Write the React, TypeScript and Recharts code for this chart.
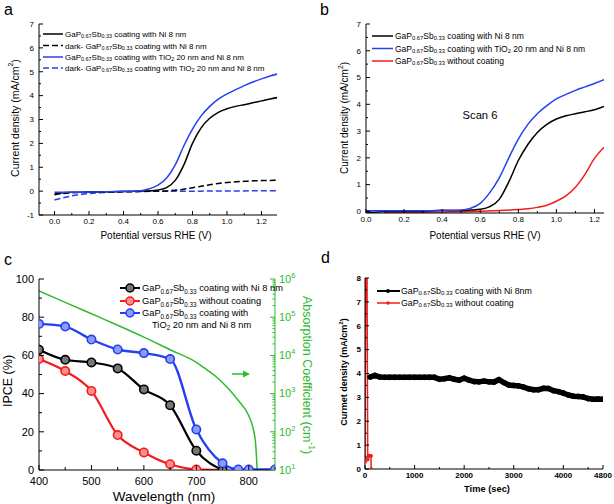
import React from 'react';
import { LineChart, Line, XAxis, YAxis } from 'recharts';

const FONT = '"Liberation Sans", Arial, Helvetica, sans-serif';
const BLUE = '#2440f0';
const RED = '#f41c1c';
const GREEN = '#2fba2f';

// ---- panel a: J-V curves, light and dark ----
const potA = [0, 0.05, 0.1, 0.2, 0.3, 0.4, 0.5, 0.55, 0.6, 0.65, 0.7, 0.75, 0.8, 0.85, 0.9, 0.95, 1.0, 1.05, 1.1, 1.15, 1.2, 1.25, 1.3];
const niA = [-0.12, -0.07, -0.05, -0.04, -0.03, -0.02, 0, 0.01, 0.05, 0.15, 0.45, 1.1, 2.0, 2.65, 3.05, 3.3, 3.45, 3.55, 3.62, 3.7, 3.78, 3.86, 3.93];
const darkNiA = [-0.15, -0.1, -0.07, -0.05, -0.04, -0.03, -0.02, -0.01, 0, 0.01, 0.04, 0.08, 0.14, 0.2, 0.27, 0.32, 0.36, 0.39, 0.41, 0.43, 0.44, 0.45, 0.46];
const tiA = [-0.05, -0.05, -0.05, -0.04, -0.03, -0.01, 0.02, 0.1, 0.25, 0.55, 1.1, 1.9, 2.6, 3.15, 3.55, 3.85, 4.07, 4.25, 4.42, 4.57, 4.7, 4.82, 4.92];
const darkTiA = [-0.37, -0.28, -0.2, -0.1, -0.05, -0.02, -0.01, 0, 0, 0, 0, 0, 0, 0, 0.01, 0.01, 0.01, 0.01, 0.01, 0.02, 0.02, 0.02, 0.02];

// ---- panel b: scan 6 ----
const potB = [0, 0.05, 0.1, 0.2, 0.3, 0.4, 0.5, 0.55, 0.6, 0.65, 0.7, 0.75, 0.8, 0.85, 0.9, 0.95, 1.0, 1.05, 1.1, 1.15, 1.2, 1.25];
const niB = [-0.02, -0.03, 0, 0.01, 0.01, 0.04, 0.03, 0.05, 0.08, 0.18, 0.45, 1.1, 1.9, 2.5, 2.95, 3.25, 3.45, 3.57, 3.65, 3.72, 3.8, 3.92];
const tiB = [0.02, 0.02, 0.02, 0.02, 0.02, 0.03, 0.05, 0.12, 0.3, 0.7, 1.25, 2.0, 2.7, 3.25, 3.65, 3.95, 4.2, 4.37, 4.52, 4.65, 4.78, 4.92];
const potBare = [0.1, 0.2, 0.3, 0.4, 0.5, 0.6, 0.7, 0.8, 0.85, 0.9, 0.95, 1.0, 1.05, 1.1, 1.15, 1.2, 1.25];
const bareB = [-0.05, -0.04, -0.03, -0.02, -0.01, 0.01, 0.03, 0.07, 0.1, 0.15, 0.23, 0.38, 0.58, 0.9, 1.38, 1.98, 2.4];

// ---- panel c: IPCE + absorption ----
const wlNi = [400, 450, 500, 550, 600, 650, 700, 750];
const ipceNi = [63, 57.7, 56.3, 53.2, 42.2, 33.9, 10.1, 0];
const wlBare = [400, 450, 500, 550, 600, 650, 700, 750];
const ipceBare = [58.1, 51.8, 41.4, 18.3, 9.2, 3.0, 0.3, 0];
const wlTi = [400, 450, 500, 550, 600, 650, 700, 750, 780, 800, 850];
const ipceTi = [76.5, 75.1, 68.3, 63.1, 61.2, 58.1, 21.2, 3.5, 0.3, 0.3, 0.3];
const wlAbs = [400, 450, 500, 550, 600, 650, 700, 720, 740, 760, 780, 800, 808, 813, 816];
const absCoef = [490000, 245000, 123000, 61700, 30200, 14100, 6600, 4200, 2600, 1400, 660, 263, 126, 50, 10];

// ---- panel d: stability ----
const timeNi = [100, 200, 300, 400, 500, 600, 700, 800, 900, 1000, 1100, 1200, 1300, 1400, 1500, 1600, 1700, 1800, 1900, 2000, 2100, 2200, 2300, 2400, 2500, 2600, 2700, 2800, 2900, 3000, 3100, 3200, 3300, 3400, 3500, 3600, 3700, 3800, 3900, 4000, 4100, 4200, 4300, 4400, 4500, 4600, 4700, 4800];
const currNi = [3.85, 3.92, 3.85, 3.84, 3.84, 3.84, 3.84, 3.84, 3.84, 3.84, 3.84, 3.84, 3.84, 3.84, 3.76, 3.78, 3.82, 3.76, 3.72, 3.8, 3.72, 3.66, 3.65, 3.68, 3.65, 3.64, 3.74, 3.62, 3.52, 3.5, 3.48, 3.43, 3.36, 3.32, 3.32, 3.38, 3.37, 3.28, 3.24, 3.18, 3.1, 3.05, 3.04, 3.02, 2.95, 2.92, 2.93, 2.92];
const timeBare = [0, 15, 25, 40, 55, 70, 100, 120, 125];
const currBare = [0.3, 8.6, 8.6, 8.6, 0.4, 0.55, 0.55, 0.55, 0];

// ---- ticks ----
const potTicks = [0, 0.1, 0.2, 0.3, 0.4, 0.5, 0.6, 0.7, 0.8, 0.9, 1.0, 1.1, 1.2];
const potMajors = [0, 0.2, 0.4, 0.6, 0.8, 1.0, 1.2];
const jTicksA = [-1, -0.5, 0, 0.5, 1, 1.5, 2, 2.5, 3, 3.5, 4, 4.5, 5, 5.5, 6, 6.5, 7];
const jTicksB = [0, 0.5, 1, 1.5, 2, 2.5, 3, 3.5, 4, 4.5, 5, 5.5, 6, 6.5, 7];
const jMajors = [-1, 0, 1, 2, 3, 4, 5, 6, 7];
const wlTicks = [400, 450, 500, 550, 600, 650, 700, 750, 800, 850];
const wlMajors = [400, 500, 600, 700, 800];
const ipceTicks = [0, 10, 20, 30, 40, 50, 60, 70, 80, 90, 100];
const ipceMajors = [0, 20, 40, 60, 80, 100];
const absTicks = [10, 20, 30, 40, 50, 60, 70, 80, 90, 100, 200, 300, 400, 500, 600, 700, 800, 900, 1e3, 2e3, 3e3, 4e3, 5e3, 6e3, 7e3, 8e3, 9e3, 1e4, 2e4, 3e4, 4e4, 5e4, 6e4, 7e4, 8e4, 9e4, 1e5, 2e5, 3e5, 4e5, 5e5, 6e5, 7e5, 8e5, 9e5, 1e6];
const absMajors = [10, 100, 1e3, 1e4, 1e5, 1e6];
const timeTicks = [0, 500, 1000, 1500, 2000, 2500, 3000, 3500, 4000, 4500, 4800];
const timeMajors = [0, 1000, 2000, 3000, 4000, 4800];
const dTicks = [0, 0.5, 1, 1.5, 2, 2.5, 3, 3.5, 4, 4.5, 5, 5.5, 6, 6.5, 7, 7.5, 8];
const dMajors = [0, 1, 2, 3, 4, 5, 6, 7, 8];

const pts = (xs: number[], ys: number[]) => xs.map((x, i) => ({ x, y: ys[i] }));

// inward ticks (major/minor) with optional labels
const tickFn = (o: any) => (p: any) => {
  const { x, y, payload } = p;
  const v = payload.value;
  const major = !o.majors || o.majors.some((m: number) => Math.abs(m - v) <= 1e-6 * Math.max(1, Math.abs(m)));
  const len = major ? (o.len ?? 4) : (o.minor ?? 2);
  const col = o.color || '#000';
  const fs = o.fs ?? 8;
  const g = o.gap ?? 3;
  const txt = major && o.fmt ? o.fmt(v) : null;
  const tp = { fontSize: fs, fill: col, fontFamily: FONT, fontWeight: o.bold ? 'bold' : 'normal' };
  let line = null;
  let label = null;
  if (o.side === 'bottom') {
    line = <line x1={x} y1={y} x2={x} y2={y - len} stroke={col} />;
    if (txt != null) label = <text x={x} y={y + g} dy="0.75em" textAnchor="middle" {...tp}>{txt}</text>;
  } else if (o.side === 'top') {
    line = <line x1={x} y1={y} x2={x} y2={y + len} stroke={col} />;
  } else if (o.side === 'left') {
    line = <line x1={x} y1={y} x2={x + len} y2={y} stroke={col} />;
    if (txt != null) label = <text x={x - g} y={y} dy="0.35em" textAnchor="end" {...tp}>{txt}</text>;
  } else {
    line = <line x1={x} y1={y} x2={x - len} y2={y} stroke={col} />;
    if (txt != null) label = <text x={x + g} y={y} dy="0.35em" textAnchor="start" {...tp}>{txt}</text>;
  }
  return <g>{line}{label}</g>;
};

// text with _{sub} and ^{sup}
function rich(str: string, fs: number) {
  const out: React.ReactNode[] = [];
  const re = /([_^])\{([^}]*)\}/g;
  let last = 0;
  let shift = 0;
  let k = 0;
  let m;
  while ((m = re.exec(str))) {
    if (m.index > last) {
      out.push(<tspan key={k++} dy={-shift}>{str.slice(last, m.index)}</tspan>);
      shift = 0;
    }
    const d = m[1] === '_' ? fs * 0.28 : -fs * 0.4;
    out.push(<tspan key={k++} fontSize={fs * 0.68} dy={d - shift}>{m[2]}</tspan>);
    shift = d;
    last = re.lastIndex;
  }
  if (last < str.length) out.push(<tspan key={k++} dy={-shift}>{str.slice(last)}</tspan>);
  return out;
}

const T = ({ x, y, s, fs, fill = '#000', anchor = 'start', rot = 0, bold = false }: any) => (
  <text x={x} y={y} fontSize={fs} fill={fill} textAnchor={anchor} dominantBaseline="central"
    fontFamily={FONT} fontWeight={bold ? 'bold' : 'normal'}
    transform={rot ? `rotate(${rot} ${x} ${y})` : undefined}>
    {rich(s, fs)}
  </text>
);

const axisCommon = { type: 'number' as const, allowDataOverflow: true, interval: 0 as const, tickLine: false, tickSize: 0, tickMargin: 0, axisLine: { stroke: '#000' } };

const PanelA = () => (
  <LineChart width={307} height={250} margin={{ top: 24, right: 30, bottom: 15, left: 9 }}>
    <XAxis {...axisCommon} dataKey="x" domain={[-0.09, 1.29]} ticks={potTicks} height={20}
      tick={tickFn({ side: 'bottom', majors: potMajors, fmt: (v: number) => v.toFixed(1), fs: 8 })} />
    <XAxis {...axisCommon} xAxisId="t" orientation="top" domain={[-0.09, 1.29]} ticks={potTicks} height={0}
      tick={tickFn({ side: 'top', majors: potMajors })} />
    <YAxis {...axisCommon} domain={[-1, 7]} ticks={jTicksA} width={30}
      tick={tickFn({ side: 'left', majors: jMajors, fmt: (v: number) => String(v), fs: 8, gap: 5 })} />
    <YAxis {...axisCommon} yAxisId="r" orientation="right" domain={[-1, 7]} ticks={jTicksA} width={0}
      tick={tickFn({ side: 'right', majors: jMajors })} />
    <Line data={pts(potA, darkTiA)} dataKey="y" type="monotone" stroke={BLUE} strokeWidth={1.5} strokeDasharray="6 3" dot={false} isAnimationActive={false} />
    <Line data={pts(potA, darkNiA)} dataKey="y" type="monotone" stroke="#000" strokeWidth={1.5} strokeDasharray="6 3" dot={false} isAnimationActive={false} />
    <Line data={pts(potA, niA)} dataKey="y" type="monotone" stroke="#000" strokeWidth={1.5} dot={false} isAnimationActive={false} />
    <Line data={pts(potA, tiA)} dataKey="y" type="monotone" stroke={BLUE} strokeWidth={1.5} dot={false} isAnimationActive={false} />
  </LineChart>
);

const PanelB = () => (
  <LineChart width={307} height={250} margin={{ top: 24, right: 10, bottom: 17, left: 29 }}>
    <XAxis {...axisCommon} dataKey="x" domain={[0, 1.25]} ticks={potTicks} height={20}
      tick={tickFn({ side: 'bottom', majors: potMajors, fmt: (v: number) => v.toFixed(1), fs: 8 })} />
    <XAxis {...axisCommon} xAxisId="t" orientation="top" domain={[0, 1.25]} ticks={potTicks} height={0}
      tick={tickFn({ side: 'top', majors: potMajors })} />
    <YAxis {...axisCommon} domain={[-0.06, 7]} ticks={jTicksB} width={30}
      tick={tickFn({ side: 'left', majors: jMajors, fmt: (v: number) => String(v), fs: 8, gap: 5 })} />
    <YAxis {...axisCommon} yAxisId="r" orientation="right" domain={[-0.06, 7]} ticks={jTicksB} width={0}
      tick={tickFn({ side: 'right', majors: jMajors })} />
    <Line data={pts(potBare, bareB)} dataKey="y" type="monotone" stroke={RED} strokeWidth={1.5} dot={false} isAnimationActive={false} />
    <Line data={pts(potB, niB)} dataKey="y" type="monotone" stroke="#000" strokeWidth={1.5} dot={false} isAnimationActive={false} />
    <Line data={pts(potB, tiB)} dataKey="y" type="monotone" stroke={BLUE} strokeWidth={1.5} dot={false} isAnimationActive={false} />
  </LineChart>
);

const ringDot = (stroke: string, fill: string) => (p: any) =>
  <circle key={`d${p.index}`} cx={p.cx} cy={p.cy} r={4.2} fill={fill} stroke={stroke} strokeWidth={1.6} />;

const supTen = (v: number) => (
  <>10<tspan dy={-5} fontSize={7.5}>{Math.round(Math.log10(v))}</tspan></>
);

const PanelC = () => (
  <LineChart width={307} height={254} margin={{ top: 29, right: 0, bottom: 14, left: 9 }}>
    <XAxis {...axisCommon} dataKey="x" domain={[400, 850]} ticks={wlTicks} height={20}
      tick={tickFn({ side: 'bottom', majors: wlMajors, fmt: (v: number) => String(v), fs: 11, gap: 7, len: 5, minor: 3 })} />
    <XAxis {...axisCommon} xAxisId="t" orientation="top" domain={[400, 850]} height={0} tick={false} />
    <YAxis {...axisCommon} domain={[0, 100]} ticks={ipceTicks} width={30}
      tick={tickFn({ side: 'left', majors: ipceMajors, fmt: (v: number) => String(v), fs: 11, gap: 5, len: 5, minor: 3 })} />
    <YAxis {...axisCommon} yAxisId="abs" orientation="right" scale="log" domain={[10, 1e6]} ticks={absTicks} width={32}
      axisLine={{ stroke: GREEN }}
      tick={tickFn({ side: 'right', majors: absMajors, fmt: supTen, fs: 11, gap: 4, len: 5, minor: 2.5, color: GREEN })} />
    <Line yAxisId="abs" data={pts(wlAbs, absCoef)} dataKey="y" type="monotone" stroke={GREEN} strokeWidth={1.5} dot={false} isAnimationActive={false} />
    <Line data={pts(wlBare, ipceBare)} dataKey="y" type="monotone" stroke={RED} strokeWidth={2.2} dot={ringDot(RED, '#ff8e8e')} isAnimationActive={false} />
    <Line data={pts(wlNi, ipceNi)} dataKey="y" type="monotone" stroke="#000" strokeWidth={2.2} dot={ringDot('#000', '#777')} isAnimationActive={false} />
    <Line data={pts(wlTi, ipceTi)} dataKey="y" type="monotone" stroke={BLUE} strokeWidth={2.4} dot={ringDot(BLUE, '#8c9bf7')} isAnimationActive={false} />
  </LineChart>
);

const PanelD = () => (
  <LineChart width={307} height={254} margin={{ top: 28, right: 11, bottom: 15, left: 28 }}>
    <XAxis {...axisCommon} dataKey="x" domain={[0, 4800]} ticks={timeTicks} height={20}
      tick={tickFn({ side: 'bottom', majors: timeMajors, fmt: (v: number) => String(v), fs: 8, gap: 3, bold: true })} />
    <XAxis {...axisCommon} xAxisId="t" orientation="top" domain={[0, 4800]} ticks={timeTicks} height={0}
      tick={tickFn({ side: 'top', majors: timeMajors })} />
    <YAxis {...axisCommon} domain={[0, 8]} ticks={dTicks} width={30}
      tick={tickFn({ side: 'left', majors: dMajors, fmt: (v: number) => String(v), fs: 8, gap: 4, bold: true })} />
    <YAxis {...axisCommon} yAxisId="r" orientation="right" domain={[0, 8]} ticks={dTicks} width={0}
      tick={tickFn({ side: 'right', majors: dMajors })} />
    <Line data={pts(timeNi, currNi)} dataKey="y" type="linear" stroke="#000" strokeWidth={5.5} dot={{ r: 2.4, fill: '#000', stroke: '#000', strokeWidth: 1 }} isAnimationActive={false} />
    <Line data={pts(timeBare, currBare)} dataKey="y" type="linear" stroke={RED} strokeWidth={1.5} dot={{ r: 1.5, fill: RED, stroke: RED, strokeWidth: 1 }} isAnimationActive={false} />
  </LineChart>
);

const GPS = 'GaP_{0.67}Sb_{0.33}';

const Overlay = () => (
  <svg width={614} height={504} style={{ position: 'absolute', left: 0, top: 0, pointerEvents: 'none' }}>
    {/* panel letters */}
    <text x={4} y={15} fontSize={16} fontFamily={FONT}>a</text>
    <text x={320} y={15} fontSize={16} fontFamily={FONT}>b</text>
    <text x={4} y={265} fontSize={16} fontFamily={FONT}>c</text>
    <text x={321} y={263} fontSize={16} fontFamily={FONT}>d</text>

    {/* a */}
    <T x={15} y={118} s="Current density (mA/cm^{2})" fs={10.5} anchor="middle" rot={-90} />
    <T x={156} y={235} s="Potential versus RHE (V)" fs={10} anchor="middle" />
    <line x1={43} x2={63} y1={34} y2={34} stroke="#000" strokeWidth={1.5} />
    <line x1={43} x2={63} y1={45.5} y2={45.5} stroke="#000" strokeWidth={1.5} strokeDasharray="6 3" />
    <line x1={43} x2={63} y1={57} y2={57} stroke={BLUE} strokeWidth={1.5} />
    <line x1={43} x2={63} y1={68} y2={68} stroke={BLUE} strokeWidth={1.5} strokeDasharray="6 3" />
    <T x={65} y={34} s={`${GPS} coating with Ni 8 nm`} fs={8} />
    <T x={65} y={45.5} s={`dark- ${GPS} coating with Ni 8 nm`} fs={8} />
    <T x={65} y={57} s={`${GPS} coating with TiO_{2} 20 nm and Ni 8 nm`} fs={8} />
    <T x={65} y={68} s={`dark- ${GPS} coating with TiO_{2} 20 nm and Ni 8 nm`} fs={8} />

    {/* b */}
    <T x={344} y={118} s="Current density (mA/cm^{2})" fs={10} anchor="middle" rot={-90} />
    <T x={485} y={235} s="Potential versus RHE (V)" fs={10} anchor="middle" />
    <T x={480} y={115} s="Scan 6" fs={11.2} anchor="middle" />
    <line x1={372} x2={393} y1={36} y2={36} stroke="#000" strokeWidth={1.5} />
    <line x1={372} x2={393} y1={48.5} y2={48.5} stroke={BLUE} strokeWidth={1.5} />
    <line x1={372} x2={393} y1={61} y2={61} stroke={RED} strokeWidth={1.5} />
    <T x={395} y={36} s={`${GPS} coating with Ni 8 nm`} fs={8.5} />
    <T x={395} y={48.5} s={`${GPS} coating with TiO_{2} 20 nm and Ni 8 nm`} fs={8.5} />
    <T x={395} y={61} s={`${GPS} without coating`} fs={8.5} />

    {/* c */}
    <T x={8} y={381} s="IPCE (%)" fs={12.5} anchor="middle" rot={-90} />
    <T x={164} y={496} s="Wavelength (nm)" fs={13.5} anchor="middle" />
    <T x={307} y={375} s="Absorption Coefficient (cm^{-1})" fs={12.5} anchor="middle" rot={90} fill={GREEN} />
    <line x1={232} x2={244} y1={374} y2={374} stroke={GREEN} strokeWidth={1.5} />
    <polygon points="243,370.5 250,374 243,377.5" fill={GREEN} />
    {[
      { y: 288, c: '#000', f: '#777', s: `${GPS} coating with Ni 8 nm` },
      { y: 301, c: RED, f: '#ff8e8e', s: `${GPS} without coating` },
      { y: 313, c: BLUE, f: '#8c9bf7', s: `${GPS} coating with` },
    ].map((r) => (
      <g key={r.y}>
        <line x1={120} x2={140} y1={r.y} y2={r.y} stroke={r.c} strokeWidth={2} />
        <circle cx={130} cy={r.y} r={4} fill={r.f} stroke={r.c} strokeWidth={1.5} />
        <T x={142} y={r.y} s={r.s} fs={9.3} />
      </g>
    ))}
    <T x={152} y={324.5} s="TiO_{2} 20 nm and Ni 8 nm" fs={9.3} />

    {/* d */}
    <T x={344} y={372} s="Curmet density (mA/cm^{2})" fs={9} anchor="middle" rot={-90} bold />
    <T x={487} y={489} s="Time (sec)" fs={9.3} anchor="middle" bold />
    <line x1={377} x2={400} y1={291} y2={291} stroke="#000" strokeWidth={2} />
    <circle cx={388} cy={291} r={2} fill="#000" />
    <line x1={377} x2={400} y1={303} y2={303} stroke={RED} strokeWidth={1.5} />
    <circle cx={388} cy={303} r={1.8} fill={RED} />
    <T x={401} y={291} s={`${GPS} coating with Ni 8nm`} fs={8.8} />
    <T x={401} y={303} s={`${GPS} without coating`} fs={8.8} />
  </svg>
);

export default function App() {
  return (
    <div style={{ position: 'absolute', left: 0, top: 0, width: 614, height: 504, background: '#fff', overflow: 'hidden', fontFamily: FONT }}>
      <div style={{ position: 'absolute', left: 0, top: 0 }}><PanelA /></div>
      <div style={{ position: 'absolute', left: 307, top: 0 }}><PanelB /></div>
      <div style={{ position: 'absolute', left: 0, top: 250 }}><PanelC /></div>
      <div style={{ position: 'absolute', left: 307, top: 250 }}><PanelD /></div>
      <Overlay />
    </div>
  );
}
